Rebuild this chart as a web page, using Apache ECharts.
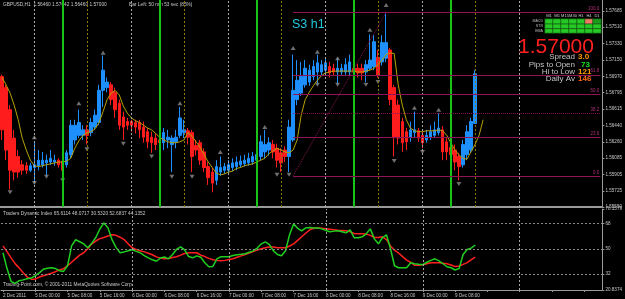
<!DOCTYPE html>
<html><head><meta charset="utf-8">
<script src="https://cdn.jsdelivr.net/npm/echarts@6/dist/echarts.min.js"></script>
<style>html,body{margin:0;padding:0;background:#000}#c{width:625px;height:299px}</style>
</head><body><div id="c"></div>
<script>
// ---- data (GBPUSD H1, 2 Dec 16:00 -> 9 Dec 13:00) ----
const opens=[1.5697,1.5685,1.5661,1.5630,1.5610,1.5601,1.5600,1.5595,1.5598,1.5600,
1.5601,1.5603,1.5604,1.5604,1.5606,1.5605,1.5601,1.5612,1.5628,1.5633,
1.5633,1.5639,1.5636,1.5642,1.5647,1.5682,1.5685,1.5688,1.5680,1.5668,
1.5653,1.5648,1.5648,1.5647,1.5647,1.5642,1.5637,1.5631,1.5630,1.5628,
1.5625,1.5628,1.5623,1.5626,1.5633,1.5636,1.5638,1.5636,1.5622,1.5625,
1.5615,1.5599,1.5593,1.5584,1.5593,1.5595,1.5595,1.5598,1.5599,1.5601,
1.5602,1.5603,1.5604,1.5606,1.5610,1.5615,1.5617,1.5623,1.5619,1.5614,
1.5617,1.5610,1.5628,1.5672,1.5679,1.5688,1.5691,1.5697,1.5702,1.5702,
1.5704,1.5708,1.5706,1.5702,1.5702,1.5702,1.5702,1.5706,1.5706,1.5706,
1.5702,1.5706,1.5708,1.5718,1.5713,1.5717,1.5726,1.5685,1.5666,1.5648,
1.5637,1.5631,1.5636,1.5638,1.5633,1.5628,1.5631,1.5633,1.5636,1.5639,
1.5626,1.5620,1.5617,1.5610,1.5601,1.5612,1.5617,1.5646];
const closes=[1.5639,1.5617,1.5595,1.5593,1.5593,1.5595,1.5595,1.5600,1.5601,1.5606,
1.5606,1.5606,1.5608,1.5606,1.5601,1.5595,1.5614,1.5644,1.5644,1.5647,
1.5639,1.5633,1.5647,1.5655,1.5682,1.5704,1.5691,1.5672,1.5661,1.5644,
1.5642,1.5644,1.5644,1.5642,1.5639,1.5631,1.5626,1.5625,1.5623,1.5625,
1.5636,1.5631,1.5630,1.5631,1.5652,1.5639,1.5631,1.5610,1.5617,1.5606,
1.5598,1.5587,1.5581,1.5599,1.5598,1.5599,1.5601,1.5603,1.5604,1.5605,
1.5606,1.5608,1.5610,1.5612,1.5626,1.5623,1.5625,1.5615,1.5606,1.5603,
1.5610,1.5642,1.5682,1.5693,1.5697,1.5706,1.5704,1.5708,1.5712,1.5710,
1.5712,1.5701,1.5702,1.5706,1.5706,1.5710,1.5713,1.5702,1.5701,1.5701,
1.5710,1.5715,1.5735,1.5698,1.5734,1.5734,1.5672,1.5631,1.5630,1.5625,
1.5626,1.5639,1.5639,1.5630,1.5625,1.5633,1.5637,1.5639,1.5641,1.5615,
1.5615,1.5612,1.5604,1.5599,1.5623,1.5637,1.5648,1.5700];
const highs=[1.5699,1.5688,1.5666,1.5639,1.5617,1.5606,1.5604,1.5603,1.5626,1.5617,
1.5615,1.5612,1.5617,1.5612,1.5608,1.5608,1.5617,1.5650,1.5650,1.5661,
1.5644,1.5644,1.5652,1.5661,1.5688,1.5720,1.5696,1.5691,1.5685,1.5672,
1.5659,1.5652,1.5650,1.5650,1.5650,1.5648,1.5641,1.5637,1.5635,1.5632,
1.5641,1.5639,1.5633,1.5639,1.5664,1.5650,1.5641,1.5639,1.5628,1.5628,
1.5619,1.5604,1.5598,1.5606,1.5610,1.5603,1.5606,1.5608,1.5610,1.5611,
1.5612,1.5614,1.5615,1.5617,1.5633,1.5639,1.5631,1.5628,1.5624,1.5619,
1.5621,1.5650,1.5721,1.5715,1.5713,1.5715,1.5710,1.5715,1.5721,1.5715,
1.5717,1.5713,1.5711,1.5717,1.5711,1.5717,1.5721,1.5711,1.5711,1.5711,
1.5715,1.5743,1.5742,1.5726,1.5742,1.5767,1.5728,1.5688,1.5672,1.5652,
1.5641,1.5648,1.5659,1.5641,1.5637,1.5639,1.5644,1.5648,1.5657,1.5643,
1.5630,1.5625,1.5623,1.5614,1.5628,1.5644,1.5652,1.5704];
const lows=[1.5628,1.5606,1.5574,1.5584,1.5587,1.5590,1.5591,1.5593,1.5582,1.5595,
1.5598,1.5589,1.5601,1.5600,1.5598,1.5587,1.5598,1.5608,1.5623,1.5630,
1.5628,1.5623,1.5632,1.5639,1.5644,1.5664,1.5680,1.5666,1.5652,1.5639,
1.5628,1.5639,1.5637,1.5635,1.5630,1.5625,1.5619,1.5614,1.5617,1.5619,
1.5617,1.5619,1.5593,1.5619,1.5630,1.5630,1.5623,1.5593,1.5611,1.5601,
1.5593,1.5579,1.5571,1.5579,1.5589,1.5591,1.5592,1.5594,1.5595,1.5598,
1.5599,1.5600,1.5601,1.5603,1.5606,1.5608,1.5611,1.5608,1.5598,1.5593,
1.5604,1.5593,1.5626,1.5666,1.5676,1.5685,1.5687,1.5693,1.5688,1.5698,
1.5701,1.5696,1.5698,1.5689,1.5699,1.5699,1.5698,1.5698,1.5696,1.5693,
1.5691,1.5704,1.5704,1.5696,1.5709,1.5713,1.5666,1.5610,1.5623,1.5615,
1.5617,1.5626,1.5630,1.5626,1.5619,1.5625,1.5628,1.5630,1.5633,1.5606,
1.5606,1.5604,1.5595,1.5584,1.5598,1.5606,1.5614,1.5646];
const maValues=[1.5696,1.5688,1.5679,1.5666,1.5650,1.5630,1.5617,1.5606,1.5600,1.5599,
1.5600,1.5601,1.5602,1.5603,1.5604,1.5604,1.5605,1.5608,1.5619,1.5627,
1.5633,1.5636,1.5637,1.5640,1.5647,1.5659,1.5672,1.5679,1.5682,1.5677,
1.5665,1.5657,1.5652,1.5649,1.5647,1.5644,1.5641,1.5639,1.5635,1.5631,
1.5628,1.5626,1.5625,1.5625,1.5626,1.5628,1.5636,1.5632,1.5626,1.5620,
1.5612,1.5604,1.5598,1.5592,1.5590,1.5591,1.5593,1.5594,1.5597,1.5598,
1.5600,1.5601,1.5602,1.5604,1.5606,1.5608,1.5613,1.5616,1.5619,1.5617,
1.5615,1.5614,1.5617,1.5628,1.5655,1.5672,1.5680,1.5687,1.5693,1.5698,
1.5701,1.5702,1.5703,1.5703,1.5703,1.5703,1.5703,1.5703,1.5702,1.5702,
1.5703,1.5704,1.5706,1.5710,1.5715,1.5721,1.5723,1.5722,1.5688,1.5666,
1.5650,1.5641,1.5638,1.5637,1.5637,1.5638,1.5638,1.5638,1.5639,1.5638,
1.5633,1.5625,1.5617,1.5612,1.5608,1.5607,1.5615,1.5623,1.5633,1.5650];
const tdiPrice=[47.2,36,27,25.5,27.4,28,28.8,29.3,31,33,
35.5,36.2,36.6,36,34.5,34,38,52,56.4,55,
53.5,50.7,54,58,64,68.3,64.8,56.5,51,47.2,
47.8,48.6,49.3,48.2,47.2,45.2,43.6,42.2,41.2,43.5,
44.2,42.9,46,49.5,51.4,49.3,44.5,43.6,45,44,
40.1,37.3,37.5,42.9,44.4,44.4,44.4,45.2,45.8,46.1,
46.5,47.5,48.5,50.5,53.5,54.9,53,48.5,46,45.1,
48.6,60,67.6,64.5,62.7,64.8,65,64.8,64.8,64.1,
63,62,62.5,62.7,62,61.3,63.4,57.8,57.8,58.5,
60.6,64.1,57,53.5,57.8,59.9,50,38,36.6,36.6,
36.6,40.1,39.4,39,38.7,40.5,41.8,42.9,41.5,39.4,
37.3,36.6,35,36,46,49.5,50.5,52.68];
const tdiSignal=[52.1,48,43.6,39.5,36.5,33,30,28.5,28.5,30,
30.9,31.8,32.7,33.8,35,35.9,38,40.5,43,45.5,
47.2,50,53.5,55.5,57.2,58,59,59.9,59.5,58.2,
56.5,53.5,50.7,49.5,48.6,47.8,46.8,45.8,44.3,43.4,
43,43.2,43.8,44.4,45.5,46.7,47.2,47.2,47.2,45.5,
44.5,43.2,42.2,41.8,41.5,41.8,42.4,43,44,45,
46,47,48,49.2,50,50.8,51.3,51.2,50.8,50.7,
50.7,52,53.5,56,58.5,61,63.5,64.5,64.8,64.5,
64.1,63.8,63.5,63.2,63,62.7,62,60.8,60.6,60.6,
60.4,59.5,58,58,58.5,56.5,52,49,47,44.5,
42,40.5,38.3,38.3,38.7,39.4,40.1,40.2,40.1,39.8,
39.4,38.5,37.4,37.8,39,40.2,42.3,44.14];
const priceTicks=[1.57685,1.57510,1.57330,1.57150,1.56970,1.56795,1.56615,1.56440,1.56260,1.56085,1.55905,1.55725,1.55550];
const tdiTicks=[20.8374,32,50,68,78.1579];
const tdiLevels=[32,50,68];
const timeTickLabels=['2 Dec 2011','5 Dec 00:00','5 Dec 08:00','5 Dec 16:00','6 Dec 00:00','6 Dec 08:00','6 Dec 16:00','7 Dec 00:00','7 Dec 08:00','7 Dec 16:00','8 Dec 00:00','8 Dec 08:00','8 Dec 16:00','9 Dec 00:00','9 Dec 08:00'];
const fibLevels=[0,23.6,38.2,50,61.8,100];
const fibLow=1.5589, fibHigh=1.5767, fibStartIdx=72, fibHighIdx=95;
const dayLineIdx=[8,32,56,80,104,128];
const londonIdx=[15,39,63,87,111];
const nyIdx=[21,45,69,93,117];
const fractalUp=[[8,1.5631],[19,1.5668],[25,1.5723],[44,1.5668],[54,1.5615],[65,1.5642],[72,1.5728],[78,1.5724],[83,1.5717],[91,1.5748],[95,1.5775],[102,1.5663],[108,1.5661]];
const fractalDown=[[2,1.5571],[8,1.5581],[11,1.5588],[15,1.5584],[21,1.5618],[30,1.5624],[37,1.5610],[42,1.5588],[47,1.5588],[68,1.5590],[71,1.5590],[78,1.5688],[83,1.5688],[90,1.5688],[93,1.5691],[97,1.5605],[104,1.5615],[113,1.5580]];
const tfNames=['M1','M5','M15','M30','H1','H4','D1'];
const rowNames=['EMA','STR','MACD'];
const signalGrid=[[1,1,1,1,1,1,1],[1,1,1,1,1,1,1],[1,1,1,1,1,-1,0.5]];
const lastPrice=1.57000;
const nSlots=149;

// ---- build ----
const cats=Array.from({length:nSlots},(_,i)=>String(i));
const candles=opens.map((o,i)=>[o,closes[i],lows[i],highs[i]]);
const FONT='Liberation Sans';
const axisTxt='#c8c8c8';
const fibColor='#8e1456';

function vLines(idxs,color,type,width){
  return idxs.map(i=>({xAxis:String(i),lineStyle:{color:color,type:type,width:width}}));
}
const fibLines=fibLevels.map(p=>{
  const v=fibLow+(fibHigh-fibLow)*p/100;
  return [{coord:[String(fibStartIdx),v],lineStyle:{color:fibColor,width:1,type:p===38.2?'dotted':'solid'},
           label:{show:true,position:'insideEndTop',formatter:p.toFixed(1),color:'#b0307a',fontSize:4.5,fontFamily:FONT,distance:1}},
          {coord:[String(nSlots-1),v]}];
});
fibLines.push([{coord:[String(fibStartIdx),fibLow],lineStyle:{color:fibColor,type:'dotted',width:1},label:{show:false}},{coord:[String(fibHighIdx),fibHigh]}]);

const heat=[];
signalGrid.forEach((row,r)=>row.forEach((v,c)=>heat.push([c,r,v])));

const chart=echarts.init(document.getElementById('c'),null,{renderer:'canvas'});
chart.setOption({
  animation:false,
  backgroundColor:'#000',
  grid:[
    {left:0,top:0,width:606,height:207},
    {left:0,top:209,width:606,height:81},
    {left:545,top:19,width:56,height:14}
  ],
  xAxis:[
    {type:'category',gridIndex:0,data:cats,boundaryGap:true,
     axisLine:{show:true,lineStyle:{color:'#9a9a9a',width:2}},axisTick:{show:false},axisLabel:{show:false},splitLine:{show:false}},
    {type:'category',gridIndex:1,data:cats,boundaryGap:true,
     axisLine:{show:true,lineStyle:{color:'#9a9a9a',width:1}},
     axisTick:{show:true,interval:7,alignWithLabel:true,length:2,lineStyle:{color:'#9a9a9a'}},
     axisLabel:{show:true,interval:7,align:'left',margin:3,fontSize:4.6,fontFamily:FONT,color:axisTxt,
       formatter:(v,idx)=>timeTickLabels[idx/8]||''},splitLine:{show:false}},
    {type:'category',gridIndex:2,data:tfNames,position:'top',
     axisLine:{show:false},axisTick:{show:false},
     axisLabel:{interval:0,fontSize:4,fontFamily:FONT,color:'#cfcfcf',margin:1.5}}
  ],
  yAxis:[
    {type:'value',gridIndex:0,position:'right',min:1.5555,max:1.57804,scale:true,
     axisLine:{show:true,lineStyle:{color:'#9a9a9a'}},
     axisTick:{show:true,customValues:priceTicks,length:2,lineStyle:{color:'#9a9a9a'}},
     axisLabel:{show:true,customValues:priceTicks,formatter:v=>v.toFixed(5),fontSize:4.6,fontFamily:FONT,color:axisTxt,margin:3},
     splitLine:{show:false}},
    {type:'value',gridIndex:1,position:'right',min:20.8374,max:78.1579,
     axisLine:{show:true,lineStyle:{color:'#9a9a9a'}},
     axisTick:{show:true,customValues:tdiTicks,length:2,lineStyle:{color:'#9a9a9a'}},
     axisLabel:{show:true,customValues:tdiTicks,fontSize:4.6,fontFamily:FONT,color:axisTxt,margin:3,
       formatter:v=>String(v)},
     splitLine:{show:false}},
    {type:'category',gridIndex:2,data:rowNames,
     axisLine:{show:false},axisTick:{show:false},
     axisLabel:{interval:0,fontSize:3.6,fontFamily:FONT,color:'#bdbdbd',margin:2}}
  ],
  visualMap:[{type:'piecewise',show:false,seriesIndex:6,dimension:2,
    pieces:[{value:1,color:'#26c826'},{value:0.5,color:'#1c9c1c'},{value:-1,color:'#f07a66'}]}],
  series:[
    {type:'candlestick',xAxisIndex:0,yAxisIndex:0,data:candles,barWidth:3,
     itemStyle:{color:'#1e8fff',color0:'#ff1c1c',borderColor:'#1e8fff',borderColor0:'#ff1c1c',borderWidth:1},
     markLine:{silent:true,symbol:['none','none'],animation:false,
       label:{show:false},
       data:[].concat(
         vLines(dayLineIdx,'#a8a8a8',[2,2],1),
         vLines(londonIdx,'#19c419','solid',2),
         vLines(nyIdx,'#8c7610',[2,2],1),
         fibLines,
         [{yAxis:lastPrice,lineStyle:{opacity:0},
           label:{show:true,position:'end',distance:1,formatter:lastPrice.toFixed(5),color:'#000',backgroundColor:'#ffffff',
                  fontSize:4.8,fontFamily:FONT,padding:[1,2,1,2]}}]
       )}},
    {type:'line',xAxisIndex:0,yAxisIndex:0,data:maValues,showSymbol:false,
     lineStyle:{color:'#b6a200',width:1},z:3},
    {type:'scatter',xAxisIndex:0,yAxisIndex:0,data:fractalUp,symbol:'triangle',symbolSize:[5,4],
     itemStyle:{color:'#8a8a8a'}},
    {type:'scatter',xAxisIndex:0,yAxisIndex:0,data:fractalDown,symbol:'triangle',symbolRotate:180,symbolSize:[5,4],
     itemStyle:{color:'#8a8a8a'}},
    {type:'line',xAxisIndex:1,yAxisIndex:1,data:tdiPrice,showSymbol:false,
     lineStyle:{color:'#1fd01f',width:1.5},z:4,
     markLine:{silent:true,symbol:['none','none'],animation:false,label:{show:false},
       data:[].concat(vLines(dayLineIdx,'#a8a8a8',[2,2],1),
         tdiLevels.map(v=>({yAxis:v,lineStyle:{color:'#8a8a8a',type:[2,2],width:1}})))}},
    {type:'line',xAxisIndex:1,yAxisIndex:1,data:tdiSignal,showSymbol:false,
     lineStyle:{color:'#ff2020',width:1.5},z:3},
    {type:'heatmap',xAxisIndex:2,yAxisIndex:2,data:heat,
     itemStyle:{borderColor:'#0b3a0b',borderWidth:0.6}}
  ],
  graphic:[
    {type:'text',left:3,top:2,style:{text:'GBPUSD,H1  1.56460 1.57042 1.56460 1.57000',fill:'#c8c8c8',fontSize:4.8,fontFamily:FONT}},
    {type:'text',left:129,top:2,style:{text:'Bar Left: 50 min 53 sec (85%)',fill:'#c8c8c8',fontSize:4.8,fontFamily:FONT}},
    {type:'text',left:292,top:18,style:{text:'S3 h1',fill:'#22c8de',fontSize:12.5,fontFamily:FONT}},
    {type:'text',x:556,y:47,style:{text:'1.57000',fill:'#ff2020',fontSize:21,fontFamily:FONT,align:'center',verticalAlign:'middle'}},
    {type:'text',x:575,y:57,style:{text:'Spread',fill:'#c4c4c4',fontSize:8,fontFamily:FONT,align:'right',verticalAlign:'middle'}},
    {type:'text',x:578,y:57,style:{text:'3.0',fill:'#ff9a00',fontSize:8,fontWeight:'bold',fontFamily:FONT,verticalAlign:'middle'}},
    {type:'text',x:575,y:64.5,style:{text:'Pips to Open',fill:'#c4c4c4',fontSize:8,fontFamily:FONT,align:'right',verticalAlign:'middle'}},
    {type:'text',x:581,y:64.5,style:{text:'73',fill:'#22e022',fontSize:8,fontWeight:'bold',fontFamily:FONT,verticalAlign:'middle'}},
    {type:'text',x:575,y:71.5,style:{text:'Hi to Low',fill:'#c4c4c4',fontSize:8,fontFamily:FONT,align:'right',verticalAlign:'middle'}},
    {type:'text',x:578,y:71.5,style:{text:'121',fill:'#ff9a00',fontSize:8,fontWeight:'bold',fontFamily:FONT,verticalAlign:'middle'}},
    {type:'text',x:575,y:79,style:{text:'Daily Av',fill:'#c4c4c4',fontSize:8,fontFamily:FONT,align:'right',verticalAlign:'middle'}},
    {type:'text',x:578,y:79,style:{text:'146',fill:'#ff6a10',fontSize:8,fontWeight:'bold',fontFamily:FONT,verticalAlign:'middle'}},
    {type:'text',left:3,top:211,style:{text:'Traders Dynamic Index 65.6114 48.0717 30.5320 52.6837 44.1352',fill:'#c8c8c8',fontSize:4.8,fontFamily:FONT}},
    {type:'text',left:3,top:282,style:{text:'Trading-Point.com, \u00a9 2001-2011 MetaQuotes Software Corp.',fill:'#c8c8c8',fontSize:4.8,fontFamily:FONT}}
  ]
});
</script></body></html>
